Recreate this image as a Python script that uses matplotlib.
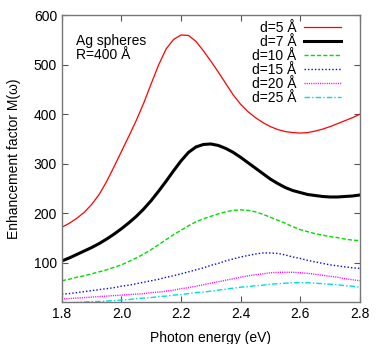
import numpy as np
import matplotlib.pyplot as plt

plt.rcParams['font.family'] = ['Liberation Sans', 'DejaVu Sans']

# Photon energy (eV)
energy = [1.800, 1.825, 1.850, 1.875, 1.900, 1.925, 1.950, 1.975, 2.000, 2.025,
          2.050, 2.075, 2.100, 2.125, 2.150, 2.175, 2.200, 2.225, 2.250, 2.275,
          2.300, 2.325, 2.350, 2.375, 2.400, 2.425, 2.450, 2.475, 2.500, 2.525,
          2.550, 2.575, 2.600, 2.625, 2.650, 2.675, 2.700, 2.725, 2.750, 2.775,
          2.800]

# Enhancement factor M(w) for each gap d
m_d5 = [172, 180, 190, 202, 218, 238, 264, 294, 325, 356,
        388, 423, 462, 500, 532, 551, 560, 559, 547, 528,
        507, 485, 462, 439, 420, 405, 393, 383, 375, 369,
        365, 363, 362, 363, 366, 370, 375, 381, 387, 393,
        400]
m_d7 = [104, 110, 117, 124, 131, 139, 148, 158, 169, 181,
        194, 209, 226, 245, 265, 286, 306, 323, 334, 339,
        340, 337, 331, 323, 313, 302, 291, 280, 269, 260,
        252, 246, 242, 238, 236, 234, 233, 233, 234, 235,
        237]
m_d10 = [64, 67, 71, 74, 78, 82, 86, 91, 96, 103,
         110, 118, 127, 137, 147, 157, 166, 175, 183, 189,
         194, 199, 203, 206, 207, 206, 203, 198, 192, 186,
         180, 173, 167, 163, 159, 156, 153, 151, 148, 146,
         145]
m_d15 = [37, 38, 40, 42, 44, 46, 48, 50, 53, 55,
         58, 61, 64, 67, 71, 74, 78, 82, 86, 90,
         95, 99, 104, 108, 112, 115, 118, 120, 120, 119,
         116, 112, 109, 105, 102, 99, 96, 94, 92, 90,
         89]
m_d20 = [27, 28, 29, 30, 31, 32, 33, 34, 35, 36,
         37, 38, 40, 41, 43, 45, 48, 50, 53, 56,
         59, 62, 65, 68, 71, 74, 76, 78, 80, 81,
         81, 81, 80, 79, 77, 75, 73, 71, 68, 66,
         64]
m_d25 = [19, 20, 20, 21, 22, 22, 23, 24, 25, 26,
         28, 29, 30, 32, 33, 35, 36, 38, 40, 41,
         43, 45, 47, 49, 51, 52, 54, 55, 57, 58,
         59, 60, 60, 60, 59, 58, 57, 56, 54, 53,
         51]

labels = ['d=5 Å', 'd=7 Å', 'd=10 Å', 'd=15 Å', 'd=20 Å', 'd=25 Å']
xticks = [1.8, 2.0, 2.2, 2.4, 2.6, 2.8]
yticks = [100, 200, 300, 400, 500, 600]

fig = plt.figure(figsize=(3.82, 3.44), dpi=100)
ax = fig.add_axes([0.162, 0.122, 0.780, 0.834])

ax.plot(energy, m_d5, color='#ff0000', lw=0.9, label=labels[0])
ax.plot(energy, m_d7, color='black', lw=2.2, label=labels[1])
ax.plot(energy, m_d10, color='#00dd00', lw=1.0, linestyle=(0, (3, 1.5)), label=labels[2])
ax.plot(energy, m_d15, color='#0000ff', lw=1.0, linestyle=(0, (1, 1.5)), label=labels[3])
ax.plot(energy, m_d20, color='#ff00ff', lw=1.0, linestyle=(0, (0.8, 0.8)), label=labels[4])
ax.plot(energy, m_d25, color='#00dddd', lw=1.0, linestyle=(0, (4, 1.5, 1, 1.5)), label=labels[5])

ax.set_xlim(1.8, 2.8)
ax.set_ylim(21, 600)
ax.set_xticks(xticks)
ax.set_xticklabels(['%.1f' % t for t in xticks])
ax.set_yticks(yticks)
ax.tick_params(direction='in', top=True, right=True, length=4, labelsize=10,
               color='#555555')
for s in ax.spines.values():
    s.set_color('#777777')
    s.set_linewidth(1.0)

ax.set_xlabel('Photon energy (eV)', fontsize=10, labelpad=7)
ax.set_ylabel('Enhancement factor M(ω)', fontsize=10, labelpad=9)

ax.text(1.849, 562, 'Ag spheres\nR=400 Å', fontsize=10, va='top', ha='left',
        linespacing=1.0)

ax.legend(loc='upper right', frameon=False, markerfirst=False, fontsize=10,
          handlelength=2.66, labelspacing=0.0, handletextpad=0.58,
          borderaxespad=0.3, bbox_to_anchor=(0.97, 1.014))

fig.savefig('out.png', dpi=100)
